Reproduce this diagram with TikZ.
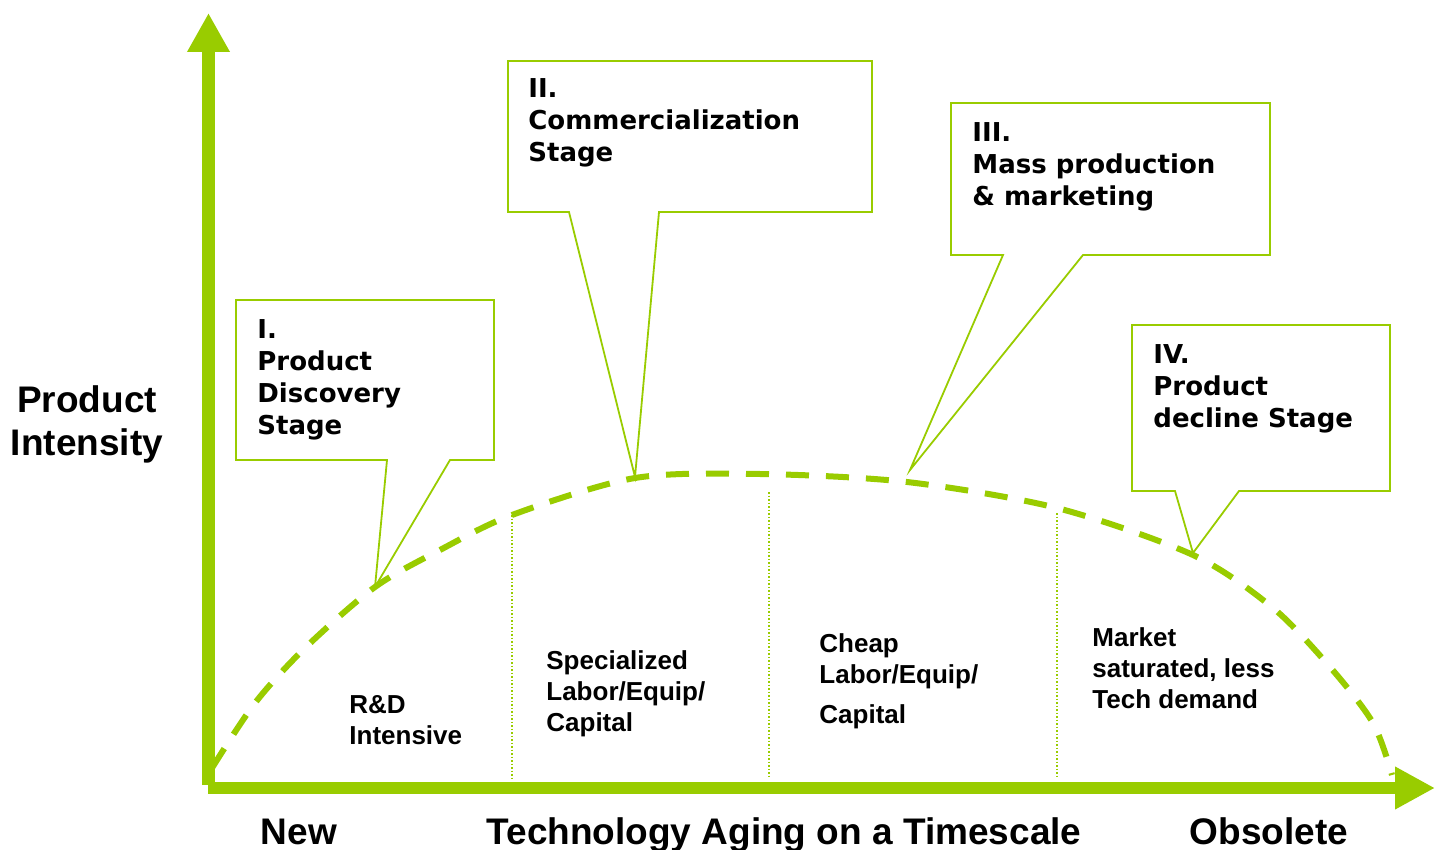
\documentclass[tikz,border=0pt]{standalone}
\usepackage{fontspec}
\setmainfont{Liberation Sans}
\newfontfamily\stagefont{DejaVu Sans}
\usepackage{xcolor}
\usepackage{tikz}
\usetikzlibrary{arrows.meta}

\definecolor{leafgreen}{HTML}{99CC00}

\tikzset{
	stage/.style={anchor=north west, inner sep=0pt, align=left, font=\stagefont\bfseries\fontsize{13}{16}\selectfont},
	phase/.style={anchor=north west, inner sep=0pt, align=left, font=\bfseries\fontsize{13}{15.5}\selectfont},
	axislabel/.style={anchor=base, inner sep=0pt, font=\bfseries\fontsize{18.5}{21.5}\selectfont},
	callout/.style={draw=leafgreen, line width=0.9pt, fill=white},
	divider/.style={leafgreen, line width=0.75pt, dash pattern=on 0.75pt off 1pt},
}

\begin{document}
\begin{tikzpicture}[x=0.5pt, y=-0.5pt]
			\useasboundingbox (0,0) rectangle (1441,850);

			\begin{scope}
				\foreach \x/\ytop in {512/515, 769/492, 1057/513}
				{
					\draw[divider] (\x,\ytop) -- (\x,778);
				}
			\end{scope}

			\begin{scope}[leafgreen, line width=3pt, dash pattern=on 11.5pt off 8.5pt]
				\draw plot[smooth] coordinates {(212,768) (255,703) (305,648) (375,587) (440,550) (512,515) (635,478) (760,474) (907,482) (1057,508) (1193,555) (1273,608) (1330,667) (1373,723) (1392,775)};
			\end{scope}

			\begin{scope}[color=leafgreen]
				\draw[line width=6.5pt, -{Triangle[width=20pt, length=19.5pt]}] (208.5,785) -- (208.5,13);
				\draw[line width=6pt, -{Triangle[width=20pt, length=20pt]}] (208,788) -- (1435,788);
			\end{scope}

			\begin{scope}
				\foreach \xl/\yt/\xr/\yb/\pl/\pr/\tx/\ty in {236/300/494/460/387/450/375/587, 508/61/872/212/569/659/635/477, 951/103/1270/255/1003/1083/910/470, 1132/325/1390/491/1175/1239/1193/553}
				{
					\draw[callout] (\xl,\yt) -- (\xr,\yt) -- (\xr,\yb) -- (\pr,\yb) -- (\tx,\ty) -- (\pl,\yb) -- (\xl,\yb) -- cycle;
				}
			\end{scope}

			\node[stage] (stageI) at (257,319) {I.\\Product\\Discovery\\Stage};
			\node[stage] (stageII) at (528,78) {II.\\Commercialization\\Stage};
			\node[stage] (stageIII) at (972,122) {III.\\Mass production\\\& marketing};
			\node[stage] (stageIV) at (1153,344) {IV.\\Product\\decline Stage};

			\node[phase] (rnd) at (349,695) {R\&D\\Intensive};
			\node[phase] (special) at (546,650) {Specialized\\Labor/Equip/\\Capital};
			\node[phase] (cheap) at (819,633) {Cheap\\Labor/Equip/\\[4.5pt]Capital};
			\node[phase] (market) at (1092,627) {Market\\saturated, less\\Tech demand};

			\node[axislabel, align=center, anchor=north] (intensity) at (87,385) {Product\\Intensity};
			\node[axislabel] (new) at (299,844) {New};
			\node[axislabel] (aging) at (784,844) {Technology Aging on a Timescale};
			\node[axislabel] (obsolete) at (1269,844) {Obsolete};
		\end{tikzpicture}
\end{document}
